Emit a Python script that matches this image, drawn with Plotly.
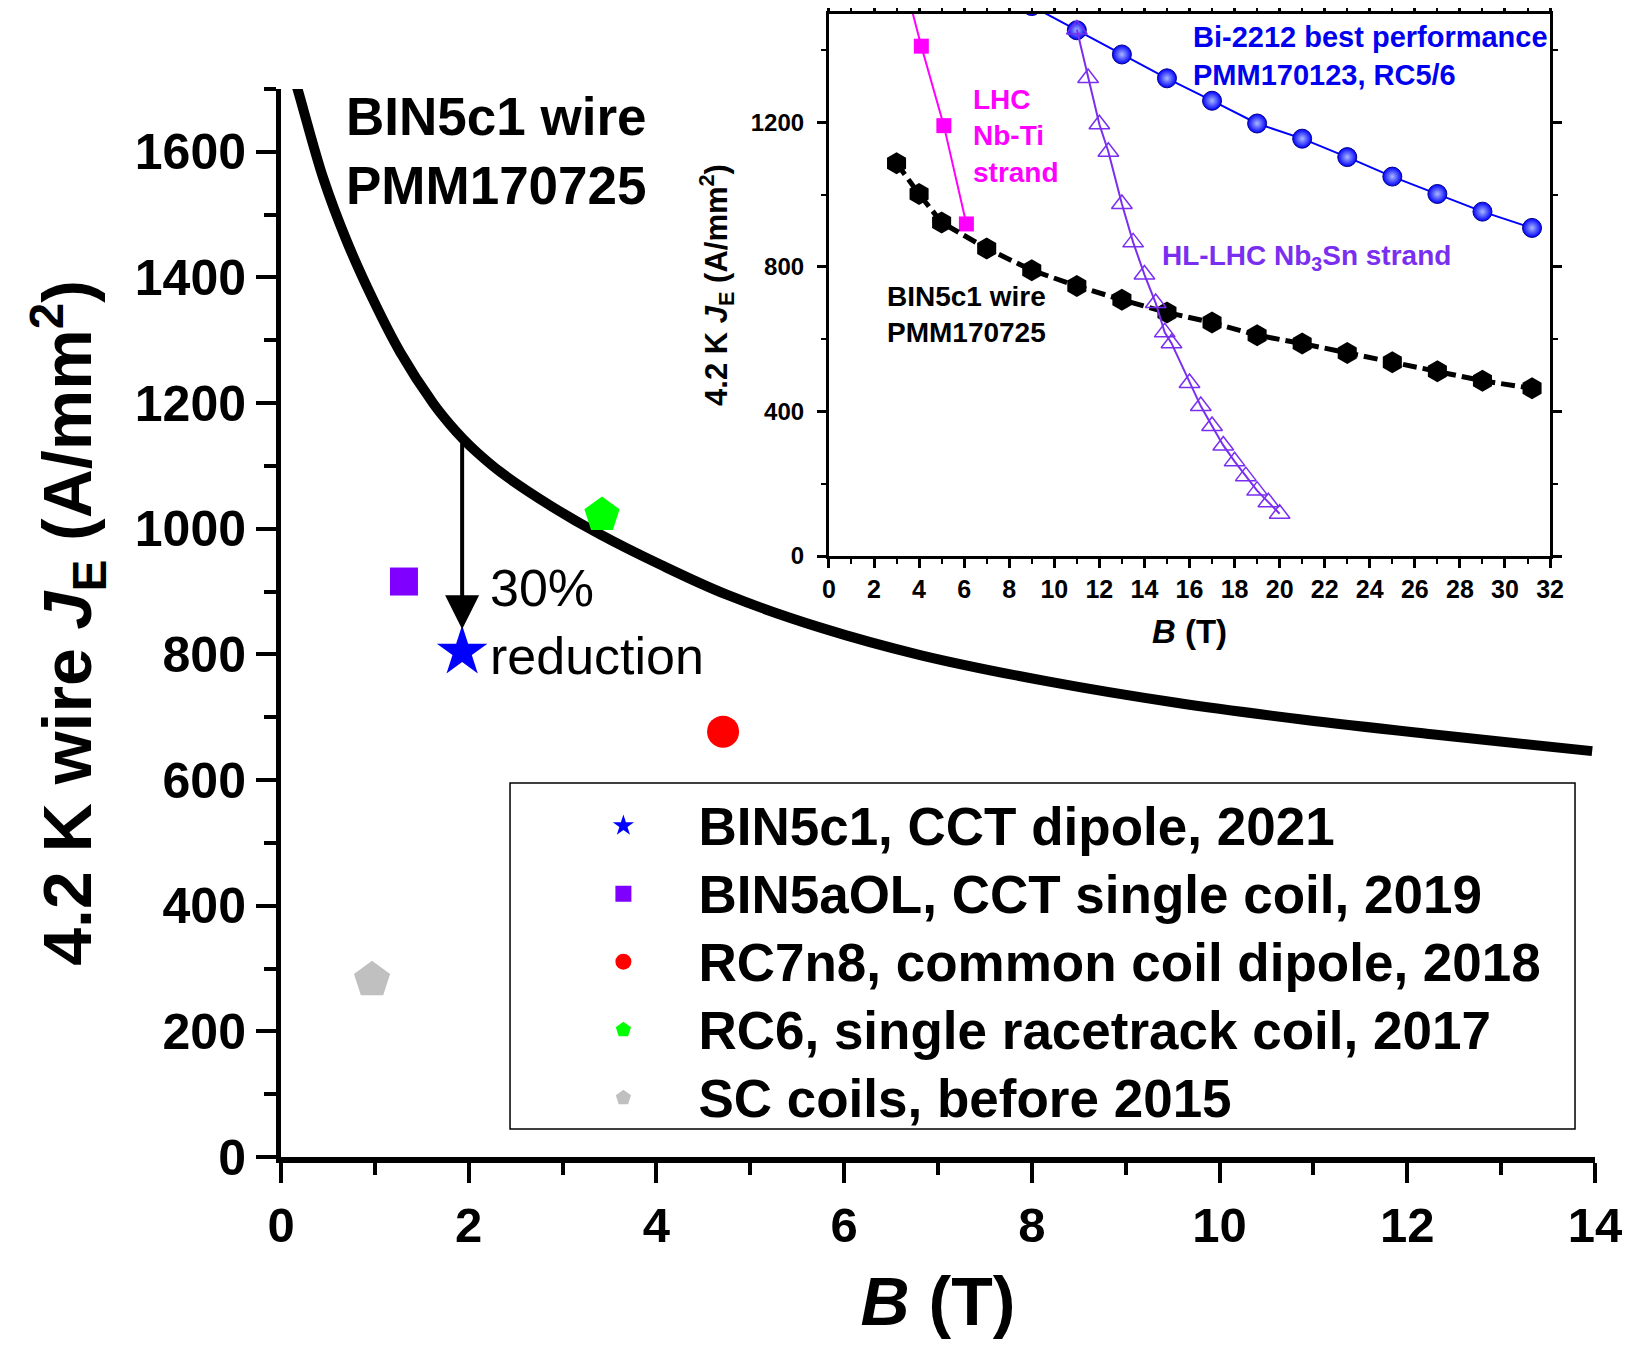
import numpy as np
import plotly.graph_objects as go

# ---------------- main panel data ----------------
# BIN5c1 wire PMM170725, 4.2 K JE(B) curve
main_B = [0.15, 0.18, 0.45, 0.70, 0.98, 1.27, 1.62, 1.80, 1.94, 2.10, 2.35, 2.88, 3.40,
          4.04, 4.75, 5.74, 6.81, 8.17, 9.54, 10.90, 12.26, 13.97]
main_JE = [1712, 1698, 1558, 1458, 1365, 1281, 1200, 1166, 1143, 1120, 1089, 1036, 991,
           943, 895, 843, 799, 757, 723, 696, 673, 646]

# coil results
coil_names = ["BIN5c1, CCT dipole, 2021",
              "BIN5aOL, CCT single coil, 2019",
              "RC7n8, common coil dipole, 2018",
              "RC6, single racetrack coil, 2017",
              "SC coils, before 2015"]
coil_B = [1.93, 1.31, 4.71, 3.42, 0.97]
coil_JE = [804, 916, 677, 1022, 282]
coil_symbols = ["star", "square", "circle", "pentagon", "pentagon"]
coil_colors = ["#0000ff", "#7f00ff", "#ff0000", "#00ff00", "#c0c0c0"]
coil_sizes = [38, 28, 32, 37, 38]

# ---------------- inset data ----------------
bi2212_B = [9.0, 11.0, 13.0, 15.0, 17.0, 19.0, 21.0, 23.0, 25.0, 27.0, 29.0, 31.2]
bi2212_JE = [1522, 1455, 1388, 1322, 1260, 1197, 1155, 1104, 1050, 1002, 953, 908]

nbti_B = [3.6, 4.1, 5.1, 6.1]
nbti_JE = [1530, 1411, 1191, 919]

nb3sn_B = [11.0, 11.5, 12.0, 12.4, 13.0, 13.5, 14.0, 14.5, 14.9, 15.2, 16.0, 16.5,
           17.0, 17.5, 18.0, 18.5, 19.0, 19.5, 20.0]
nb3sn_JE = [1457, 1323, 1195, 1119, 974, 868, 779, 700, 619, 589, 479, 415,
            360, 306, 262, 221, 181, 149, 117]

bin5_B = [3, 4, 5, 7, 9, 11, 13, 15, 17, 19, 21, 23, 25, 27, 29, 31.2]
bin5_JE = [1087, 1002, 923, 851, 791, 747, 709, 674, 646, 611, 588, 562, 536, 511, 485, 464]

main_xticks = [0, 2, 4, 6, 8, 10, 12, 14]
main_yticks = [0, 200, 400, 600, 800, 1000, 1200, 1400, 1600]
inset_xticks = list(range(0, 33, 2))
inset_yticks = [0, 400, 800, 1200]

FONT = "Liberation Sans, Arial, sans-serif"

fig = go.Figure()

# main curve
fig.add_trace(go.Scatter(x=main_B, y=main_JE, mode="lines",
                         line=dict(color="black", width=10, shape="spline", smoothing=1.0),
                         showlegend=False, xaxis="x", yaxis="y", hoverinfo="skip"))

# coil points (legend entries)
for n, b, j, s, c, sz in zip(coil_names, coil_B, coil_JE, coil_symbols, coil_colors, coil_sizes):
    fig.add_trace(go.Scatter(x=[b], y=[j], mode="markers",
                             name="<span style='font-size:53px'>" + n + "</span>",
                             marker=dict(symbol=s, color=c, size=sz, line=dict(width=0)),
                             xaxis="x", yaxis="y"))

# inset traces
fig.add_trace(go.Scatter(x=nbti_B, y=nbti_JE, mode="lines+markers",
                         line=dict(color="#ff00ff", width=2),
                         marker=dict(symbol="square", size=15, color="#ff00ff"),
                         showlegend=False, xaxis="x2", yaxis="y2"))
fig.add_trace(go.Scatter(x=bi2212_B, y=bi2212_JE, mode="lines+markers",
                         line=dict(color="#0000ff", width=2),
                         marker=dict(symbol="circle", size=19, color="#0000ff",
                                     gradient=dict(type="radial", color="#a8b8ff"),
                                     line=dict(color="#00008b", width=1)),
                         showlegend=False, xaxis="x2", yaxis="y2"))
fig.add_trace(go.Scatter(x=bin5_B, y=bin5_JE, mode="lines+markers",
                         line=dict(color="black", width=5, dash="14px,6px"),
                         marker=dict(symbol="hexagon", size=22, color="black"),
                         showlegend=False, xaxis="x2", yaxis="y2"))
fig.add_trace(go.Scatter(x=nb3sn_B, y=nb3sn_JE, mode="lines+markers",
                         line=dict(color="#7a2ff0", width=2),
                         marker=dict(symbol="triangle-up-open", size=18, color="#7a2ff0",
                                     line=dict(width=1.5)),
                         showlegend=False, xaxis="x2", yaxis="y2"))

# arrow from the wire curve down to the CCT dipole star
star_B, star_JE = coil_B[0], coil_JE[0]
arrow_tail = float(np.interp(star_B, main_B, main_JE)) - 6
arrow_tip = star_JE + 36

annotations = [
    dict(x=star_B, y=arrow_tip, ax=star_B, ay=arrow_tail, xref="x", yref="y",
         axref="x", ayref="y", text="", showarrow=True, arrowhead=2, arrowsize=1.7,
         arrowwidth=4, arrowcolor="black", standoff=0, startstandoff=0),
    dict(x=2.21, y=852, xref="x", yref="y", text="30%<br>reduction", showarrow=False,
         xanchor="left", yanchor="middle", align="left",
         font=dict(size=52, family=FONT, weight="normal", color="black")),
    dict(x=0.67, y=1601, xref="x", yref="y", text="BIN5c1 wire<br>PMM170725", showarrow=False,
         xanchor="left", yanchor="middle", align="left",
         font=dict(size=53, family=FONT, weight="bold", color="black")),
    dict(x=16.05, y=1385, xref="x2", yref="y2", text="Bi-2212 best performance<br>PMM170123, RC5/6",
         showarrow=False, xanchor="left", yanchor="middle", align="left",
         font=dict(size=29, family=FONT, weight="bold", color="#0000ee")),
    dict(x=6.3, y=1163, xref="x2", yref="y2", text="LHC<br>Nb-Ti<br>strand",
         showarrow=False, xanchor="left", yanchor="middle", align="left",
         font=dict(size=28, family=FONT, weight="bold", color="#ff00ff")),
    dict(x=14.7, y=825, xref="x2", yref="y2", text="HL-LHC Nb<sub>3</sub>Sn strand",
         showarrow=False, xanchor="left", yanchor="middle", align="left",
         font=dict(size=28, family=FONT, weight="bold", color="#7a2ff0")),
    dict(x=2.5, y=669, xref="x2", yref="y2", text="BIN5c1 wire<br>PMM170725",
         showarrow=False, xanchor="left", yanchor="middle", align="left",
         font=dict(size=28, family=FONT, weight="bold", color="black")),
]

# legend frame
shapes = [dict(type="rect", xref="paper", yref="paper", x0=0.1743, x1=0.9848, y0=0.0245, y1=0.3272,
               line=dict(color="black", width=1.5), fillcolor="white", layer="below")]

axis_common = dict(showgrid=False, zeroline=False, showline=True, linecolor="black",
                   ticks="outside", tickcolor="black", automargin=False)

# page body adds an 8 px offset, so the figure is 8 px smaller than the window
fig.update_layout(
    width=1631, height=1346,
    margin=dict(l=273, r=44, t=6, b=197, pad=0, autoexpand=False),
    paper_bgcolor="white", plot_bgcolor="white",
    font=dict(family=FONT, color="black", weight="bold"),
    xaxis=dict(domain=[0, 1], range=[0, 14], tickvals=main_xticks, anchor="y",
               linewidth=6, ticklen=20, tickwidth=4, tickfont=dict(size=49),
               minor=dict(dtick=1, tick0=0, ticks="outside", ticklen=12, tickwidth=4, tickcolor="black"),
               title=dict(text="<i>B</i> (T)", font=dict(size=68), standoff=29),
               **axis_common),
    yaxis=dict(domain=[0, 0.9344], range=[0, 1700], tickvals=main_yticks, anchor="x",
               linewidth=5, ticklen=20, tickwidth=4, tickfont=dict(size=50),
               minor=dict(dtick=100, tick0=0, ticks="outside", ticklen=12, tickwidth=4, tickcolor="black"),
               title=dict(text="4.2 K wire <i>J</i><sub>E</sub> (A/mm<sup>2</sup>)", font=dict(size=68), standoff=22),
               **axis_common),
    xaxis2=dict(domain=[0.4170, 0.9658], range=[0, 32], tickvals=inset_xticks, anchor="y2",
                linewidth=3, ticklen=9, tickwidth=2.5, tickfont=dict(size=25), mirror="ticks",
                minor=dict(dtick=1, tick0=0, ticks="outside", ticklen=5, tickwidth=2, tickcolor="black"),
                title=dict(text="<i>B</i> (T)", font=dict(size=33), standoff=18),
                **axis_common),
    yaxis2=dict(domain=[0.5258, 1.0], range=[0, 1500], tickvals=inset_yticks, anchor="x2",
                linewidth=3, ticklen=9, tickwidth=2.5, tickfont=dict(size=24), mirror="ticks",
                ticklabelstandoff=8,
                minor=dict(dtick=200, tick0=0, ticks="outside", ticklen=5, tickwidth=2, tickcolor="black"),
                title=dict(text="4.2 K <i>J</i><sub>E</sub> (A/mm<sup>2</sup>)", font=dict(size=31), standoff=14),
                **axis_common),
    legend=dict(x=0.2035, y=0.3240, xanchor="left", yanchor="top", bgcolor="rgba(0,0,0,0)",
                borderwidth=0, font=dict(size=50, family=FONT, weight="bold"), itemwidth=140,
                tracegroupgap=0),
    annotations=annotations,
    shapes=shapes,
)

fig.write_html("out.html")
